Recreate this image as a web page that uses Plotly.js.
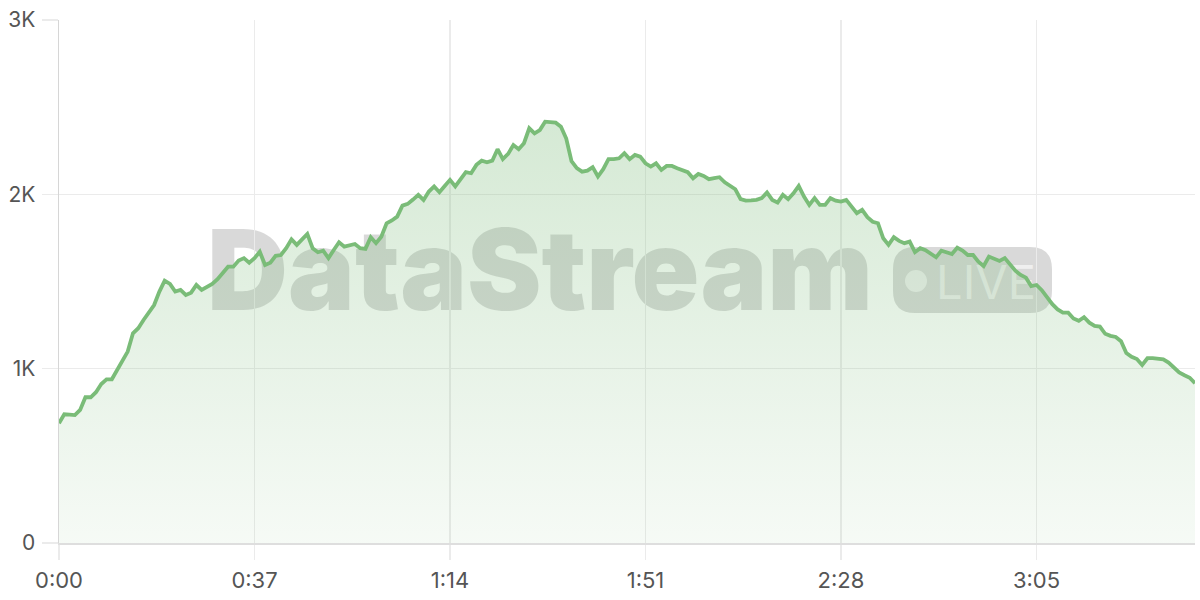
<!DOCTYPE html>
<html>
<head>
<meta charset="utf-8">
<script src="https://cdn.plot.ly/plotly-3.0.1.min.js"></script>
<style>
  html, body { margin: 0; padding: 0; background: #ffffff; }
  #chart { width: 1200px; height: 600px; }
</style>
</head>
<body>
<div id="chart"></div>
<script>
// elapsed seconds (one sample per second)
const seconds = [
  0,1,2,3,4,5,6,7,8,9,10,11,12,13,14,15,16,17,18,19,
  20,21,22,23,24,25,26,27,28,29,30,31,32,33,34,35,36,37,38,39,
  40,41,42,43,44,45,46,47,48,49,50,51,52,53,54,55,56,57,58,59,
  60,61,62,63,64,65,66,67,68,69,70,71,72,73,74,75,76,77,78,79,
  80,81,82,83,84,85,86,87,88,89,90,91,92,93,94,95,96,97,98,99,
  100,101,102,103,104,105,106,107,108,109,110,111,112,113,114,115,116,117,118,119,
  120,121,122,123,124,125,126,127,128,129,130,131,132,133,134,135,136,137,138,139,
  140,141,142,143,144,145,146,147,148,149,150,151,152,153,154,155,156,157,158,159,
  160,161,162,163,164,165,166,167,168,169,170,171,172,173,174,175,176,177,178,179,
  180,181,182,183,184,185,186,187,188,189,190,191,192,193,194,195,196,197,198,199,
  200,201,202,203,204,205,206,207,208,209,210,211,212,213,214,215
];

// concurrent viewers
const viewers = [
  687,738,736,734,763,836,836,865,912,939,939,993,1040,1098,1203,1232,1279,1327,1365,1442,
  1505,1486,1442,1452,1423,1436,1480,1452,1466,1486,1513,1547,1585,1585,1620,1634,1608,1634,1671,1595,
  1608,1647,1652,1691,1742,1710,1742,1773,1691,1668,1677,1634,1681,1725,1700,1705,1715,1691,1687,1754,
  1720,1757,1834,1850,1872,1935,1945,1970,1997,1968,2016,2045,2012,2048,2083,2045,2087,2127,2121,2169,
  2193,2184,2193,2259,2202,2232,2283,2259,2293,2379,2350,2369,2417,2413,2411,2388,2320,2190,2150,2130,
  2136,2156,2102,2144,2202,2202,2207,2236,2202,2226,2216,2178,2159,2178,2140,2163,2163,2150,2136,2127,
  2092,2117,2106,2087,2093,2098,2069,2048,2029,1972,1964,1965,1968,1978,2010,1968,1953,1997,1972,2006,
  2048,1987,1939,1978,1939,1939,1978,1964,1958,1968,1933,1892,1911,1869,1843,1834,1748,1710,1754,1733,
  1720,1729,1668,1691,1680,1660,1639,1677,1666,1658,1694,1677,1652,1652,1614,1589,1643,1628,1618,1634,
  1601,1562,1538,1522,1474,1480,1450,1410,1370,1340,1321,1321,1288,1275,1295,1264,1245,1241,1200,1188,
  1182,1157,1090,1068,1055,1021,1060,1060,1058,1053,1035,1006,978,962,948,916
];

// axis ticks
const xTickVals = [0, 37, 74, 111, 148, 185];
const xTickText = ['0:00', '0:37', '1:14', '1:51', '2:28', '3:05'];
const yTickVals = [0, 1000, 2000, 3000];
const yTickText = ['0', '1K', '2K', '3K'];

// watermark text
const brandText = 'DataStream';
const liveText = 'LIVE';

const W = 1200, H = 600;
const M = { l: 59, r: 5, t: 20, b: 57 };
const pw = W - M.l - M.r, ph = H - M.t - M.b;
const px = x => (x - M.l) / pw;
const py = y => (H - M.b - y) / ph;

function roundRect(x0, y0, x1, y1, r) {
  const X = v => px(v).toFixed(5), Y = v => py(v).toFixed(5);
  return 'M' + X(x0 + r) + ',' + Y(y0) +
    ' L' + X(x1 - r) + ',' + Y(y0) +
    ' Q' + X(x1) + ',' + Y(y0) + ' ' + X(x1) + ',' + Y(y0 + r) +
    ' L' + X(x1) + ',' + Y(y1 - r) +
    ' Q' + X(x1) + ',' + Y(y1) + ' ' + X(x1 - r) + ',' + Y(y1) +
    ' L' + X(x0 + r) + ',' + Y(y1) +
    ' Q' + X(x0) + ',' + Y(y1) + ' ' + X(x0) + ',' + Y(y1 - r) +
    ' L' + X(x0) + ',' + Y(y0 + r) +
    ' Q' + X(x0) + ',' + Y(y0) + ' ' + X(x0 + r) + ',' + Y(y0) + ' Z';
}

const lineColor = 'rgb(122,188,120)';
const fontFamily = 'Inter, "Liberation Sans", sans-serif';

const trace = {
  x: seconds,
  y: viewers,
  type: 'scatter',
  mode: 'lines',
  line: { color: lineColor, width: 3.8, shape: 'linear' },
  fill: 'tozeroy',
  fillgradient: {
    type: 'vertical',
    start: 0,
    stop: 2420,
    colorscale: [[0, 'rgba(124,187,122,0.07)'], [1, 'rgba(124,187,122,0.32)']]
  },
  hoverinfo: 'skip'
};

const layout = {
  width: W, height: H,
  margin: M,
  paper_bgcolor: '#ffffff',
  plot_bgcolor: '#ffffff',
  showlegend: false,
  xaxis: {
    range: [0, 215],
    tickmode: 'array', tickvals: xTickVals, ticktext: xTickText,
    showgrid: true, gridcolor: '#ebebeb', gridwidth: 1.2,
    ticks: 'outside', ticklen: 15, tickcolor: '#ebebeb', tickwidth: 1.2,
    showline: true, linecolor: '#dedede', linewidth: 1.5,
    zeroline: false, ticklabelstandoff: 2,
    tickfont: { family: fontFamily, size: 22, color: '#555555' }, fixedrange: true
  },
  yaxis: {
    range: [0, 3000],
    tickmode: 'array', tickvals: yTickVals, ticktext: yTickText,
    showgrid: true, gridcolor: '#ebebeb', gridwidth: 1.2,
    ticks: 'outside', ticklen: 16, tickcolor: '#ebebeb', tickwidth: 1.2,
    showline: true, linecolor: '#d6d6d6', linewidth: 1.5,
    zeroline: false, ticklabelstandoff: 2,
    tickfont: { family: fontFamily, size: 21, color: '#555555' }, fixedrange: true
  },
  shapes: [
    {
      type: 'rect', xref: 'paper', yref: 'paper', layer: 'below',
      x0: px(200), x1: px(880), y0: py(326), y1: py(206),
      line: { width: 0 }, fillcolor: 'rgba(0,0,0,0)',
      label: {
        text: brandText, textposition: 'middle center',
        font: { family: fontFamily, size: 112, weight: 900, color: 'rgba(0,0,0,0.15)' }
      }
    },
    {
      type: 'path', xref: 'paper', yref: 'paper', layer: 'below',
      path: roundRect(893, 247, 1052, 313, 22),
      line: { width: 0 }, fillcolor: 'rgba(0,0,0,0.15)'
    },
    {
      type: 'circle', xref: 'paper', yref: 'paper', layer: 'below',
      x0: px(905), x1: px(927), y0: py(292), y1: py(270),
      line: { width: 0 }, fillcolor: 'rgba(255,255,255,0.6)'
    },
    {
      type: 'rect', xref: 'paper', yref: 'paper', layer: 'below',
      x0: px(932), x1: px(1040), y0: py(313), y1: py(247),
      line: { width: 0 }, fillcolor: 'rgba(0,0,0,0)',
      label: {
        text: liveText, textposition: 'middle center',
        font: { family: fontFamily, size: 47, weight: 400, color: 'rgba(255,255,255,0.6)' }
      }
    }
  ]
};

Plotly.newPlot('chart', [trace], layout, { displayModeBar: false, staticPlot: true });
</script>
</body>
</html>
